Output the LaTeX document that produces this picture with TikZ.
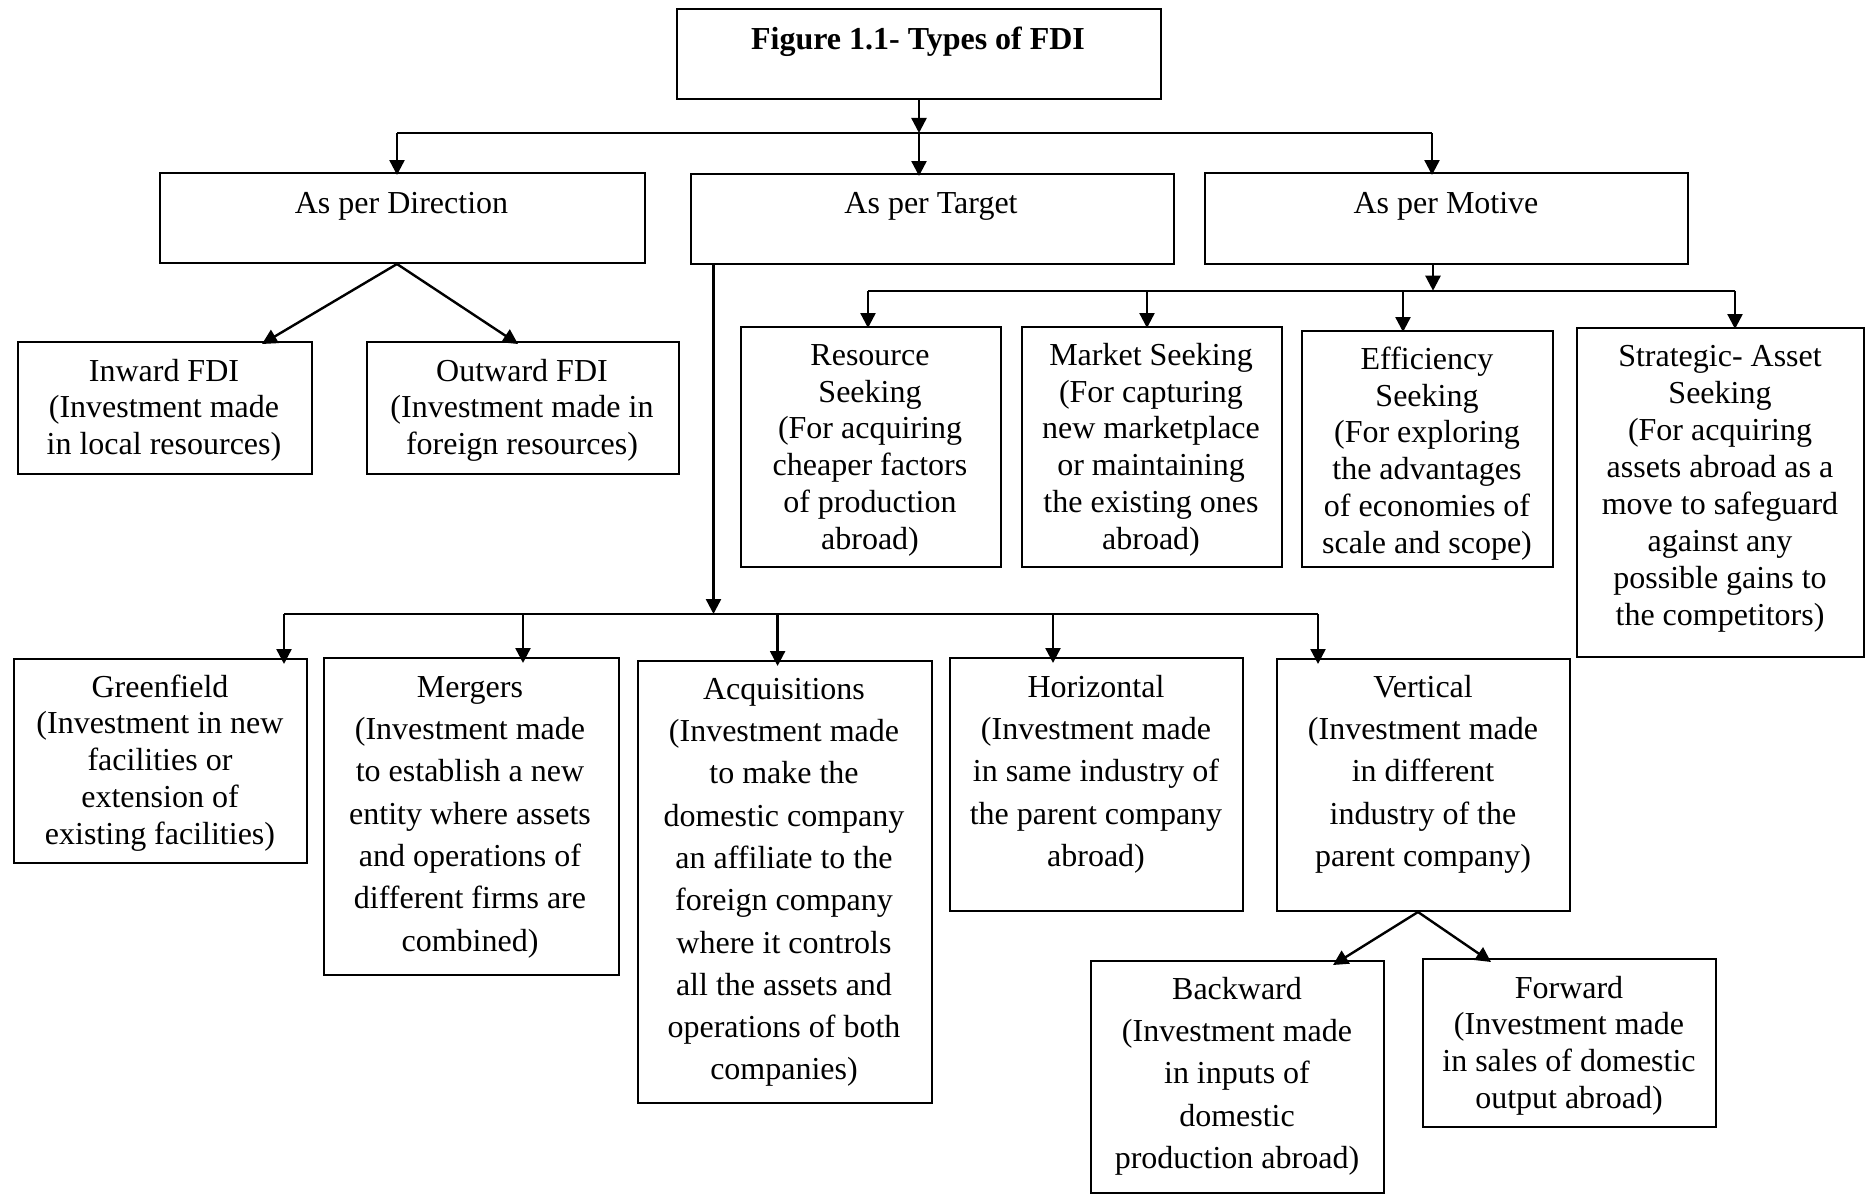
\documentclass[tikz,border=0pt]{standalone}
\usepackage{fontspec}
\setmainfont{Liberation Serif}
\usetikzlibrary{arrows.meta}
\tikzset{
  box/.style={draw, line width=2pt, inner sep=0pt, anchor=north west},
  txt/.style={inner sep=0pt, align=center, anchor=north},
  conn/.style={line width=2.4pt},
  arr/.style={conn, -{Triangle[length=15pt,width=15pt]}}
}
\newcommand\mybox[5]{\node[box, minimum width={#4-#2}, minimum height={#5-#3}] (#1) at (#2,#3) {};}
\newcommand\mytxt[5]{\node[txt, font=\fontsize{32}{#4}\selectfont] (#1) at (#2,{#3-23}) {\rule{0pt}{23pt}#5};}
\begin{document}
\begin{tikzpicture}[x=1pt,y=-1pt]
\useasboundingbox (0,0) rectangle (1873,1196);
% boxes
\mybox{title}{676}{8}{1160}{98}
\mybox{dir}{159}{172}{644}{262}
\mybox{tgt}{689.5}{173}{1173}{263}
\mybox{mot}{1204}{172}{1687}{263}
\mybox{inw}{17}{341}{311}{473}
\mybox{outw}{366}{341}{678}{473}
\mybox{res}{740}{326}{1000}{566}
\mybox{mkt}{1021}{326}{1281}{566}
\mybox{eff}{1301}{330}{1552}{566}
\mybox{strat}{1576}{327}{1863}{656}
\mybox{green}{13}{658}{306}{862}
\mybox{merg}{323}{657}{617.5}{974}
\mybox{acq}{637}{660}{931}{1102}
\mybox{hor}{949}{657}{1242}{910}
\mybox{vert}{1276}{658}{1569}{910}
\mybox{back}{1090}{960}{1383}{1192}
\mybox{fwd}{1422}{958}{1715}{1126}
% texts
\mytxt{title-t}{918}{49.5}{36.8}{\textbf{Figure 1.1- Types of FDI}}
\mytxt{dir-t}{401.5}{213}{36.8}{As per Direction}
\mytxt{tgt-t}{931}{213}{36.8}{As per Target}
\mytxt{mot-t}{1446}{213}{36.8}{As per Motive}
\mytxt{inw-t}{164}{381}{36.4}{Inward FDI\\(Investment made\\in local resources)}
\mytxt{outw-t}{522}{381}{36.4}{Outward FDI\\(Investment made in\\foreign resources)}
\mytxt{res-t}{870}{365}{36.8}{Resource\\Seeking\\(For acquiring\\cheaper factors\\of production\\abroad)}
\mytxt{mkt-t}{1151}{365}{36.8}{Market Seeking\\(For capturing\\new marketplace\\or maintaining\\the existing ones\\abroad)}
\mytxt{eff-t}{1427}{369}{36.8}{Efficiency\\Seeking\\(For exploring\\the advantages\\of economies of\\scale and scope)}
\mytxt{strat-t}{1720}{366}{37}{Strategic- Asset\\Seeking\\(For acquiring\\assets abroad as a\\move to safeguard\\against any\\possible gains to\\the competitors)}
\mytxt{green-t}{160}{697}{36.7}{Greenfield\\(Investment in new\\facilities or\\extension of\\existing facilities)}
\mytxt{merg-t}{470}{697}{42.3}{Mergers\\(Investment made\\to establish a new\\entity where assets\\and operations of\\different firms are\\combined)}
\mytxt{acq-t}{784}{699}{42.3}{Acquisitions\\(Investment made\\to make the\\domestic company\\an affiliate to the\\foreign company\\where it controls\\all the assets and\\operations of both\\companies)}
\mytxt{hor-t}{1096}{697}{42.3}{Horizontal\\(Investment made\\in same industry of\\the parent company\\abroad)}
\mytxt{vert-t}{1423}{697}{42.3}{Vertical\\(Investment made\\in different\\industry of the\\parent company)}
\mytxt{back-t}{1237}{999}{42.3}{Backward\\(Investment made\\in inputs of\\domestic\\production abroad)}
\mytxt{fwd-t}{1569}{998}{36.6}{Forward\\(Investment made\\in sales of domestic\\output abroad)}
% level 1 connectors
\coordinate (jd) at (397,133);
\coordinate (jm) at (1432,133);
\draw[arr] (title.south) -- (title.south |- jd);
\draw[conn] (jd) -- (jm);
\draw[arr] (jd) -- ([yshift=-3pt]jd |- dir.north);
\draw[arr] (title.south |- jd) -- ([yshift=-3pt]title.south |- tgt.north);
\draw[arr] (jm) -- ([yshift=-3pt]jm |- mot.north);
% direction fan
\draw[arr] (jd |- dir.south) -- ([xshift=97pt,yshift=-3pt]inw.north);
\draw[arr] (jd |- dir.south) -- ([xshift=-5pt,yshift=-3pt]outw.north);
% motive
\coordinate (jmo) at (1433,290.7);
\coordinate (jr) at (868,290.7);
\coordinate (jk) at (1147,290.7);
\coordinate (je) at (1403,290.7);
\coordinate (js) at (1735,290.7);
\draw[arr] (jmo |- mot.south) -- (jmo);
\draw[conn] (jr) -- (js);
\draw[arr] (jr) -- ([yshift=-2pt]jr |- res.north);
\draw[arr] (jk) -- ([yshift=-2pt]jk |- mkt.north);
\draw[arr] (je) -- ([yshift=-2pt]je |- eff.north);
\draw[arr] (js) -- ([yshift=-2pt]js |- strat.north);
% target
\coordinate (jt) at (713.5,614);
\coordinate (jg) at (284,614);
\coordinate (jme) at (523,614);
\coordinate (ja) at (777.6,614);
\coordinate (jh) at (1053,614);
\coordinate (jv) at (1318,614);
\draw[arr] (jt |- tgt.south) -- (jt);
\draw[conn] (jg) -- (jv);
\draw[arr] (jg) -- ([yshift=-6pt]jg |- green.north);
\draw[arr] (jme) -- ([yshift=-6pt]jme |- merg.north);
\draw[arr] (ja) -- ([yshift=-6pt]ja |- acq.north);
\draw[arr] (jh) -- ([yshift=-6pt]jh |- hor.north);
\draw[arr] (jv) -- ([yshift=-6pt]jv |- vert.north);
% vertical fan
\draw[arr] ([xshift=-5.5pt]vert.south) -- ([xshift=95.5pt,yshift=-5pt]back.north);
\draw[arr] ([xshift=-5.5pt]vert.south) -- ([xshift=-78.5pt,yshift=-4pt]fwd.north);
\end{tikzpicture}
\end{document}
